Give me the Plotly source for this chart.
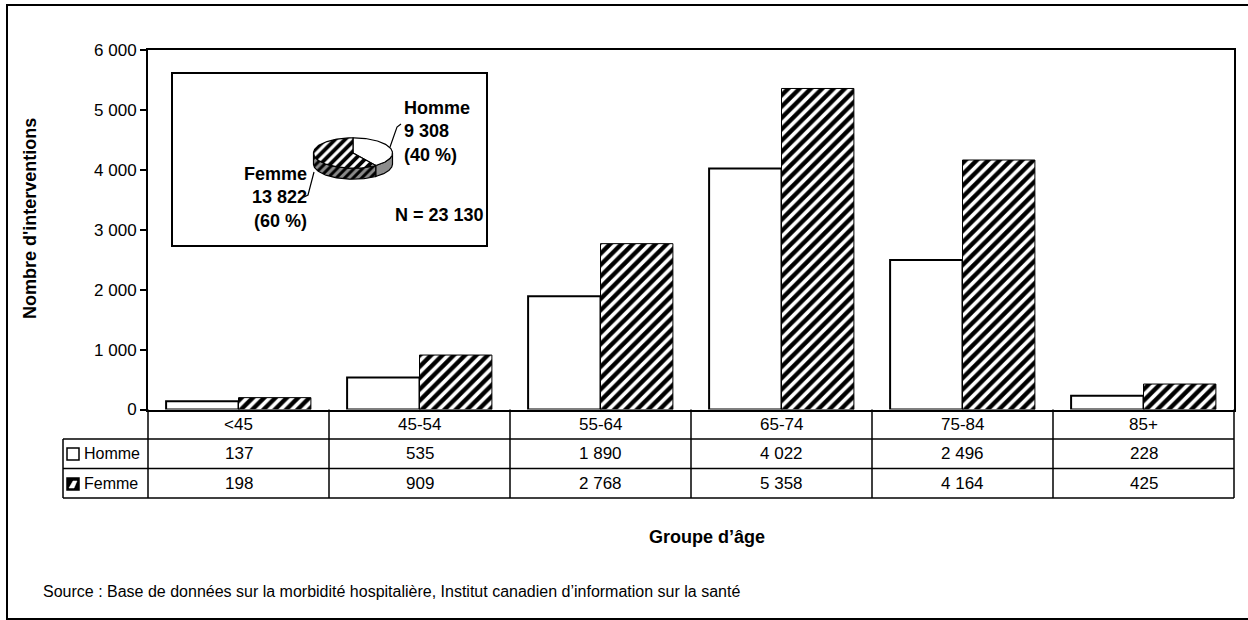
import numpy as np
import plotly.graph_objects as go

# ---------------- data ----------------
categories = ["<45", "45-54", "55-64", "65-74", "75-84", "85+"]
homme = [137, 535, 1890, 4022, 2496, 228]
femme = [198, 909, 2768, 5358, 4164, 425]
series_names = ["Homme", "Femme"]
pie_values = [9308, 13822]          # Homme, Femme
pie_pct = ["40 %", "60 %"]
total_n = 23130
y_ticks = [0, 1000, 2000, 3000, 4000, 5000, 6000]
y_title = "Nombre d'interventions"
x_title = "Groupe d’âge"
source = "Source : Base de données sur la morbidité hospitalière, Institut canadien d’information sur la santé"

# ---------------- layout helpers ----------------
W, H = 1248, 620
FONT = "Liberation Sans, Arial, sans-serif"


def fx(p):
    return p / W


def fy(p):
    return 1 - p / H


def fmt(v):
    return f"{v:,}".replace(",", " ")


PL, PR, PT, PB = 148, 1234, 50, 409.5      # plot area (px)
ROW_H = 29.5
LEFT_COL = 63

fig = go.Figure()

# ---------------- bars ----------------
fig.add_bar(x=categories, y=homme, name=series_names[0],
            marker=dict(color="white", line=dict(color="black", width=2)))
fig.add_bar(x=categories, y=femme, name=series_names[1],
            marker=dict(color="white", line=dict(color="black", width=1),
                        pattern=dict(shape="/", fgcolor="black", bgcolor="white",
                                     size=8, solidity=0.55)))

# ---------------- 3D-looking pie (inset) ----------------
PIE_CX, PIE_CY, PIE_R = 353, 153, 39.5
PIE_RY = 0.385
PIE_DEPTH = 0.28
SPAN = 1.4

frac = np.array(pie_values, dtype=float) / sum(pie_values)
bounds = [90.0]
for f in frac:
    bounds.append(bounds[-1] - 360 * f)
slices = [(bounds[i + 1], bounds[i]) for i in range(len(frac))]   # (lo, hi)

side_styles = [
    dict(fillcolor="#8c8c8c"),
    dict(fillcolor="#555555",
         fillpattern=dict(shape="/", fgcolor="black", bgcolor="#8a8a8a", size=6, solidity=0.5)),
]
top_styles = [
    dict(fillcolor="white"),
    dict(fillcolor="white",
         fillpattern=dict(shape="/", fgcolor="black", bgcolor="white", size=7, solidity=0.55)),
]

# sides first
for i, (lo, hi) in enumerate(slices):
    for k in (-360, 0, 360):
        a, b = max(lo, -180 + k), min(hi, 0 + k)
        if b > a:
            t = np.radians(np.linspace(a, b, 60))
            xs = np.concatenate([np.cos(t), np.cos(t)[::-1], [np.cos(t[0])]])
            ys = np.concatenate([PIE_RY * np.sin(t), PIE_RY * np.sin(t)[::-1] - PIE_DEPTH,
                                 [PIE_RY * np.sin(t[0])]])
            fig.add_scatter(x=xs, y=ys, xaxis="x2", yaxis="y2", mode="lines",
                            fill="toself", line=dict(color="black", width=1.2),
                            hoverinfo="skip", showlegend=False, **side_styles[i])
# tops
for i, (lo, hi) in enumerate(slices):
    t = np.radians(np.linspace(hi, lo, 100))
    xs = np.concatenate([[0], np.cos(t), [0]])
    ys = np.concatenate([[0], PIE_RY * np.sin(t), [0]])
    fig.add_scatter(x=xs, y=ys, xaxis="x2", yaxis="y2", mode="lines",
                    fill="toself", line=dict(color="black", width=1.2),
                    hoverinfo="skip", showlegend=False, **top_styles[i])

# ---------------- shapes ----------------
shapes = []
line_k = dict(color="black", width=1.5)
frame_k = dict(color="black", width=2)
# white strip along the right edge (nothing drawn there in the original)
shapes.append(dict(type="rect", xref="paper", yref="paper", layer="above",
                   x0=fx(1237), x1=1.01, y0=-0.01, y1=1.01,
                   fillcolor="white", line=dict(width=0)))
# outer frame (top, left, bottom; right edge falls outside the picture)
shapes.append(dict(type="line", xref="paper", yref="paper",
                   x0=fx(6), x1=1, y0=fy(5), y1=fy(5), line=frame_k))
shapes.append(dict(type="line", xref="paper", yref="paper",
                   x0=fx(7), x1=fx(7), y0=fy(5), y1=fy(619), line=frame_k))
shapes.append(dict(type="line", xref="paper", yref="paper",
                   x0=fx(6), x1=1, y0=fy(619), y1=fy(619), line=frame_k))
# inset box
shapes.append(dict(type="rect", xref="paper", yref="paper",
                   x0=fx(172), x1=fx(487), y0=fy(246), y1=fy(73),
                   line=dict(color="black", width=2)))
# leader lines
shapes.append(dict(type="path", xref="paper", yref="paper",
                   path=f"M {fx(390)} {fy(147)} L {fx(397)} {fy(127)} L {fx(401)} {fy(124)}",
                   line=dict(color="black", width=1.2)))
shapes.append(dict(type="path", xref="paper", yref="paper",
                   path=f"M {fx(314)} {fy(172)} L {fx(308)} {fy(195)} L {fx(304)} {fy(197)}",
                   line=dict(color="black", width=1.2)))

# table grid
rows_y = [PB + ROW_H * k for k in range(4)]
for k in (1, 2, 3):
    shapes.append(dict(type="line", xref="paper", yref="paper",
                       x0=fx(LEFT_COL), x1=fx(PR), y0=fy(rows_y[k]), y1=fy(rows_y[k]), line=line_k))
shapes.append(dict(type="line", xref="paper", yref="paper",
                   x0=fx(LEFT_COL), x1=fx(LEFT_COL), y0=fy(rows_y[1]), y1=fy(rows_y[3]), line=line_k))
shapes.append(dict(type="line", xref="paper", yref="paper",
                   x0=fx(PL), x1=fx(PL), y0=fy(rows_y[0]), y1=fy(rows_y[3]), line=line_k))
shapes.append(dict(type="line", xref="paper", yref="paper",
                   x0=fx(PR), x1=fx(PR), y0=fy(rows_y[0]), y1=fy(rows_y[3]), line=line_k))
for i in range(1, len(categories)):
    shapes.append(dict(type="line", xref="x", yref="paper",
                       x0=i - 0.5, x1=i - 0.5, y0=fy(rows_y[0]), y1=fy(rows_y[3]), line=line_k))

# legend keys in table
shapes.append(dict(type="rect", xref="paper", yref="paper",
                   x0=fx(67), x1=fx(79), y0=fy(460), y1=fy(448),
                   fillcolor="white", line=dict(color="black", width=1.5)))
shapes.append(dict(type="rect", xref="paper", yref="paper",
                   x0=fx(67), x1=fx(79), y0=fy(490), y1=fy(478),
                   fillcolor="black", line=dict(color="black", width=1.5)))
shapes.append(dict(type="path", xref="paper", yref="paper",
                   path=f"M {fx(69)} {fy(488)} L {fx(74)} {fy(488)} L {fx(77)} {fy(481)} L {fx(73)} {fy(481)} Z",
                   fillcolor="white", line=dict(color="white", width=0.5)))

# ---------------- annotations ----------------
ann = []
reg = dict(family=FONT, size=17, color="black")
bold = dict(family=FONT, size=18, color="black")

row_centers = [(rows_y[k] + rows_y[k + 1]) / 2 for k in range(3)]
for i, c in enumerate(categories):
    ann.append(dict(x=c, xref="x", y=fy(row_centers[0]), yref="paper", text=c,
                    showarrow=False, font=reg, xanchor="center", yanchor="middle"))
    ann.append(dict(x=c, xref="x", y=fy(row_centers[1]), yref="paper", text=fmt(homme[i]),
                    showarrow=False, font=reg, xanchor="center", yanchor="middle"))
    ann.append(dict(x=c, xref="x", y=fy(row_centers[2]), yref="paper", text=fmt(femme[i]),
                    showarrow=False, font=reg, xanchor="center", yanchor="middle"))
for k, name in enumerate(series_names):
    ann.append(dict(x=fx(82), xref="paper", y=fy(row_centers[k + 1]), yref="paper", text=name,
                    showarrow=False, font=dict(family=FONT, size=16, color="black"),
                    xanchor="left", yanchor="middle"))

# pie labels
ann.append(dict(x=fx(402), xref="paper", y=fy(131), yref="paper",
                text=f"<b>{series_names[0]}</b><br><b>{fmt(pie_values[0])}</b><br><b>({pie_pct[0]})</b>",
                showarrow=False, font=bold, xanchor="left", yanchor="middle", align="left"))
ann.append(dict(x=fx(309), xref="paper", y=fy(197.5), yref="paper",
                text=f"<b>{series_names[1]}</b><br><b>{fmt(pie_values[1])}</b><br><b>({pie_pct[1]})</b>",
                showarrow=False, font=bold, xanchor="right", yanchor="middle", align="right"))
ann.append(dict(x=fx(439), xref="paper", y=fy(215), yref="paper",
                text=f"<b>N = {fmt(total_n)}</b>", showarrow=False, font=bold,
                xanchor="center", yanchor="middle"))

# axis titles and source
ann.append(dict(x=fx(30), xref="paper", y=fy(219), yref="paper", text=f"<b>{y_title}</b>",
                textangle=-90, showarrow=False, font=bold, xanchor="center", yanchor="middle"))
ann.append(dict(x=fx(707), xref="paper", y=fy(537), yref="paper", text=f"<b>{x_title}</b>",
                showarrow=False, font=bold, xanchor="center", yanchor="middle"))
ann.append(dict(x=fx(41), xref="paper", y=fy(591), yref="paper", text=source,
                showarrow=False, font=dict(family=FONT, size=16, color="black"),
                xanchor="left", yanchor="middle"))

fig.update_layout(
    template="none",
    width=W, height=H, autosize=False,
    margin=dict(l=0, r=0, t=0, b=0, pad=0, autoexpand=False),
    paper_bgcolor="white", plot_bgcolor="white",
    showlegend=False,
    barmode="group", bargap=0.2, bargroupgap=0,
    font=dict(family=FONT, size=16, color="black"),
    xaxis=dict(domain=[fx(PL), fx(PR)], type="category", range=[-0.5, len(categories) - 0.5],
               showticklabels=False, ticks="", showgrid=False, zeroline=False, automargin=False,
               showline=True, mirror=True, linecolor="black", linewidth=2),
    yaxis=dict(domain=[fy(PB), fy(PT)], range=[0, 6000], tickvals=y_ticks, automargin=False,
               ticktext=[fmt(v) for v in y_ticks], ticks="outside", ticklen=6,
               tickwidth=1.5, tickcolor="black", showgrid=False, zeroline=False,
               showline=True, mirror=True, linecolor="black", linewidth=2,
               tickfont=dict(family=FONT, size=17, color="black")),
    xaxis2=dict(domain=[fx(PIE_CX - SPAN * PIE_R), fx(PIE_CX + SPAN * PIE_R)],
                range=[-SPAN, SPAN], visible=False, anchor="y2", fixedrange=True, automargin=False),
    yaxis2=dict(domain=[fy(PIE_CY + SPAN * PIE_R), fy(PIE_CY - SPAN * PIE_R)],
                range=[-SPAN, SPAN], visible=False, anchor="x2", fixedrange=True, automargin=False),
    shapes=shapes,
    annotations=ann,
)

fig.write_html("out.html")
